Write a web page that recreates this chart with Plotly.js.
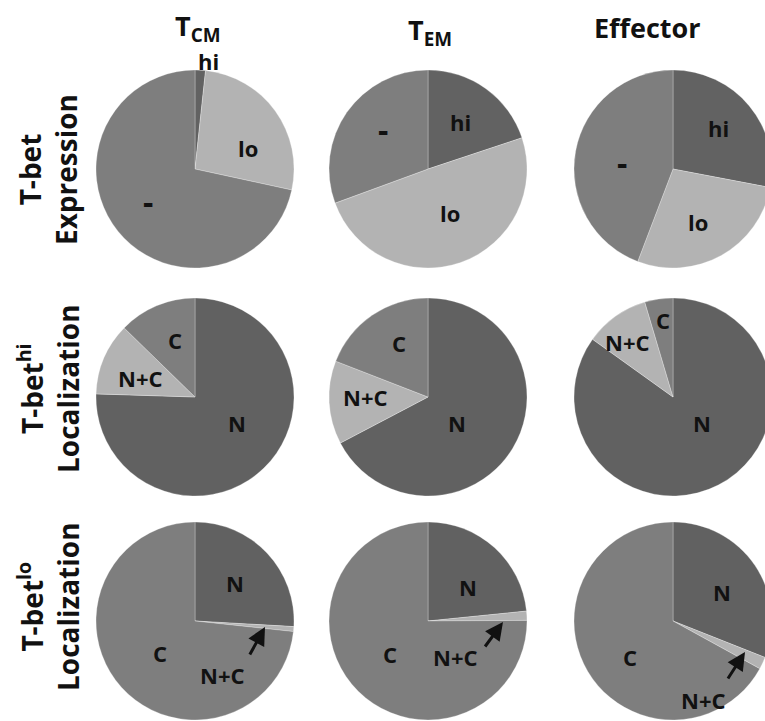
<!DOCTYPE html>
<html>
<head>
<meta charset="utf-8">
<script src="https://cdn.plot.ly/plotly-3.0.1.min.js"></script>
<style>
html, body { margin:0; padding:0; background:#ffffff; overflow:hidden; width:765px; height:721px; }
#chart { width:780px; height:721px; }
</style>
</head>
<body>
<div id="chart"></div>
<script>
// ---- data ----
const columnTitles = ['T<sub>CM</sub>', 'T<sub>EM</sub>', 'Effector'];
const rowTitles = ['T-bet<br>Expression', 'T-bet<sup>hi</sup><br>Localization', 'T-bet<sup>lo</sup><br>Localization'];

const exprLabels = ['hi', 'lo', '-'];
const exprTCM = [1.7, 26.7, 71.6];
const exprTEM = [19.9, 49.5, 30.6];
const exprEff = [28.0, 27.8, 44.2];

const locLabels = ['N', 'N+C', 'C'];
const hiLocTCM = [75.5, 11.8, 12.7];
const hiLocTEM = [67.3, 13.6, 19.1];
const hiLocEff = [84.9, 10.5, 4.6];

const loLocTCM = [25.9, 0.8, 73.3];
const loLocTEM = [23.4, 1.5, 75.1];
const loLocEff = [31.0, 2.0, 67.0];

// ---- styling / layout ----
const W = 780, H = 721;
const colorMap = { 'hi': '#626262', 'lo': '#b3b3b3', '-': '#7e7e7e', 'N': '#616161', 'N+C': '#b3b3b3', 'C': '#7e7e7e' };
const colX = [195, 428, 673];
const rowY = [169, 397, 621];
const R = 99;

const px = x => x / W;
const py = y => 1 - y / H;

const grid = [
  [[exprLabels, exprTCM], [exprLabels, exprTEM], [exprLabels, exprEff]],
  [[locLabels, hiLocTCM], [locLabels, hiLocTEM], [locLabels, hiLocEff]],
  [[locLabels, loLocTCM], [locLabels, loLocTEM], [locLabels, loLocEff]]
];

const traces = [];
grid.forEach((row, ri) => {
  row.forEach((cell, ci) => {
    const [labels, values] = cell;
    const cx = colX[ci], cy = rowY[ri];
    traces.push({
      type: 'pie',
      labels: labels,
      values: values,
      sort: false,
      direction: 'clockwise',
      rotation: 0,
      textinfo: 'none',
      hoverinfo: 'label+value',
      showlegend: false,
      marker: { colors: labels.map(l => colorMap[l]), line: { color: 'rgba(255,255,255,0.35)', width: 0.8 } },
      domain: { x: [px(cx - R), px(cx + R)], y: [py(cy + R), py(cy - R)] }
    });
  });
});

// slice label positions (pixels), per row/column, keyed by label
const labelPos = [
  [ { 'hi': [208, 61], 'lo': [248, 148], '-': [148, 201] },
    { 'hi': [460, 122], 'lo': [450, 213], '-': [383, 129] },
    { 'hi': [718, 128], 'lo': [698, 222], '-': [622, 162] } ],
  [ { 'N': [237, 423], 'N+C': [140, 378], 'C': [175, 340] },
    { 'N': [457, 423], 'N+C': [365, 397], 'C': [399, 343] },
    { 'N': [702, 423], 'N+C': [627, 342], 'C': [663, 320] } ],
  [ { 'N': [235, 583], 'N+C': [222, 675], 'C': [160, 653] },
    { 'N': [468, 587], 'N+C': [455, 657], 'C': [390, 654] },
    { 'N': [722, 592], 'N+C': [703, 700], 'C': [630, 657] } ]
];

const txtFont = { family: 'Open Sans, Noto Sans, sans-serif', size: 22, color: '#111111' };
const dashFont = { family: 'Open Sans, Noto Sans, sans-serif', size: 32, color: '#111111' };
const annotations = [];
grid.forEach((row, ri) => {
  row.forEach((cell, ci) => {
    const labels = cell[0];
    labels.forEach(l => {
      const p = labelPos[ri][ci][l];
      annotations.push({
        xref: 'paper', yref: 'paper', x: px(p[0]), y: py(p[1]),
        text: '<b>' + l + '</b>', showarrow: false,
        font: l === '-' ? dashFont : txtFont, xanchor: 'center', yanchor: 'middle'
      });
    });
  });
});

// arrows pointing at the thin N+C slices (tip, tail in pixels)
const arrows = [
  [[265, 627], [249, 656]],
  [[503, 622], [484, 648]],
  [[745, 652], [727, 680]]
];
arrows.forEach(a => {
  annotations.push({
    xref: 'paper', yref: 'paper', x: px(a[0][0]), y: py(a[0][1]),
    axref: 'pixel', ayref: 'pixel', ax: a[1][0] - a[0][0], ay: a[1][1] - a[0][1],
    text: '', showarrow: true, arrowhead: 2, arrowsize: 1.2, arrowwidth: 3, arrowcolor: '#111111', standoff: 0
  });
});

// column titles
const colTitlePos = [[198, 28], [430, 32], [647, 28]];
columnTitles.forEach((t, i) => {
  annotations.push({
    xref: 'paper', yref: 'paper', x: px(colTitlePos[i][0]), y: py(colTitlePos[i][1]),
    text: '<b>' + t + '</b>', showarrow: false, xanchor: 'center', yanchor: 'middle',
    font: { family: 'Open Sans, Noto Sans, sans-serif', size: 27, color: '#111111' }
  });
});

// row titles
const rowTitleY = [170, 389, 607];
rowTitles.forEach((t, i) => {
  annotations.push({
    xref: 'paper', yref: 'paper', x: px(48), y: py(rowTitleY[i]),
    text: '<b>' + t + '</b>', showarrow: false, textangle: -90, align: 'center',
    xanchor: 'center', yanchor: 'middle',
    font: { family: 'Open Sans, Noto Sans, sans-serif', size: 28, color: '#111111' }
  });
});

const layout = {
  width: W, height: H,
  margin: { l: 0, r: 0, t: 0, b: 0, pad: 0 },
  paper_bgcolor: '#ffffff', plot_bgcolor: '#ffffff',
  showlegend: false,
  annotations: annotations
};

Plotly.newPlot('chart', traces, layout, { staticPlot: true, displayModeBar: false });
</script>
</body>
</html>
